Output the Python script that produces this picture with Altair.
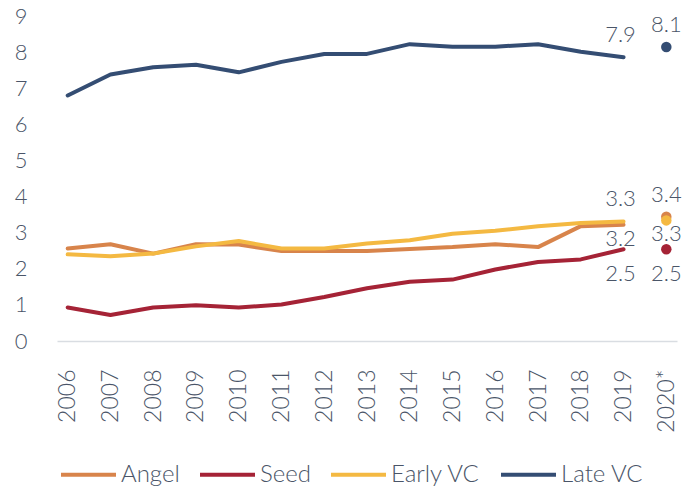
import altair as alt
import pandas as pd

years = [str(y) for y in range(2006, 2020)] + ["2020*"]
series = ["Angel", "Seed", "Early VC", "Late VC"]
colors = ["#D8844B", "#A52336", "#F4B942", "#344D73"]

angel = [2.56, 2.68, 2.42, 2.68, 2.67, 2.49, 2.49, 2.49, 2.55, 2.60, 2.68, 2.60, 3.18, 3.22]
seed = [0.93, 0.72, 0.93, 0.99, 0.93, 1.01, 1.22, 1.46, 1.64, 1.70, 1.98, 2.19, 2.26, 2.54]
early_vc = [2.40, 2.35, 2.42, 2.62, 2.77, 2.56, 2.56, 2.70, 2.79, 2.97, 3.05, 3.18, 3.27, 3.31]
late_vc = [6.80, 7.38, 7.58, 7.65, 7.44, 7.73, 7.95, 7.95, 8.22, 8.15, 8.15, 8.22, 8.01, 7.86]
proj_2020 = {"Angel": 3.44, "Seed": 2.54, "Early VC": 3.34, "Late VC": 8.14}

rows = []
for name, vals in zip(series, [angel, seed, early_vc, late_vc]):
    for y, v in zip(years[:-1], vals):
        rows.append({"year": y, "series": name, "value": v})
    rows.append({"year": years[-1], "series": name, "value": proj_2020[name]})
df = pd.DataFrame(rows)

FONT = "Lato"
TXT = "#4A5568"

# label placement groups (plot styling, not data)
above = [("Late VC", "2019"), ("Late VC", "2020*"), ("Early VC", "2019"), ("Angel", "2020*")]
below_near = [("Angel", "2019"), ("Early VC", "2020*")]
below_far = [("Seed", "2019"), ("Seed", "2020*")]

x_enc = alt.X("year:O", sort=years, scale=alt.Scale(type="point", padding=0.25),
              axis=alt.Axis(title=None, labelAngle=270, labelFontSize=23, labelFont=FONT,
                            labelFontWeight=300, labelColor=TXT, labelPadding=28,
                            domainColor="#D9DDE2", domainWidth=1.5, ticks=False, grid=False))
y_enc = alt.Y("value:Q", scale=alt.Scale(domain=[0, 9], nice=False),
              axis=alt.Axis(title=None, values=list(range(10)), labelFontSize=22, labelFont=FONT,
                            labelFontWeight=300, labelColor=TXT, labelPadding=30,
                            domain=False, ticks=False, grid=False))
color_enc = alt.Color("series:N", sort=series,
                      scale=alt.Scale(domain=series, range=colors),
                      legend=alt.Legend(title=None, orient="none", direction="horizontal",
                                        legendX=2, legendY=429, symbolType="stroke",
                                        symbolSize=3025, symbolStrokeWidth=4,
                                        labelFontSize=24, labelFont=FONT, labelFontWeight=300,
                                        labelColor=TXT, labelOffset=3, columnPadding=12,
                                        padding=0))

base = alt.Chart(df)

lines = base.transform_filter(alt.datum.year != "2020*").mark_line(
    strokeWidth=4, strokeCap="round", strokeJoin="round").encode(x=x_enc, y=y_enc, color=color_enc)

dots = base.transform_filter(alt.datum.year == "2020*").mark_point(
    filled=True, size=110, opacity=1, shape="circle").encode(
    x=x_enc, y=y_enc,
    color=alt.Color("series:N", scale=alt.Scale(domain=series, range=colors), legend=None))


def label_layer(pairs, dy, dx_2019=-3):
    cond = " || ".join(f"(datum.series == '{s}' && datum.year == '{y}')" for s, y in pairs)
    layers = []
    for yr, dx in (("2019", dx_2019), ("2020*", 0)):
        layers.append(
            base.transform_filter(cond).transform_filter(alt.datum.year == yr).mark_text(
                font=FONT, fontWeight=300, fontSize=22, color=TXT, dy=dy, dx=dx
            ).encode(x=x_enc, y=y_enc, text=alt.Text("value:Q", format=".1f"))
        )
    return layers

texts = label_layer(above, -22) + label_layer(below_near, 14) + label_layer(below_far, 25)

chart = alt.layer(lines, dots, *texts).properties(
    width=620, height=325,
    autosize=alt.AutoSizeParams(type="none"),
    padding={"left": 49, "top": 8, "right": 15, "bottom": 146},
).configure_view(stroke=None)

chart.save("out.html", embed_options={"renderer": "svg", "actions": False})
